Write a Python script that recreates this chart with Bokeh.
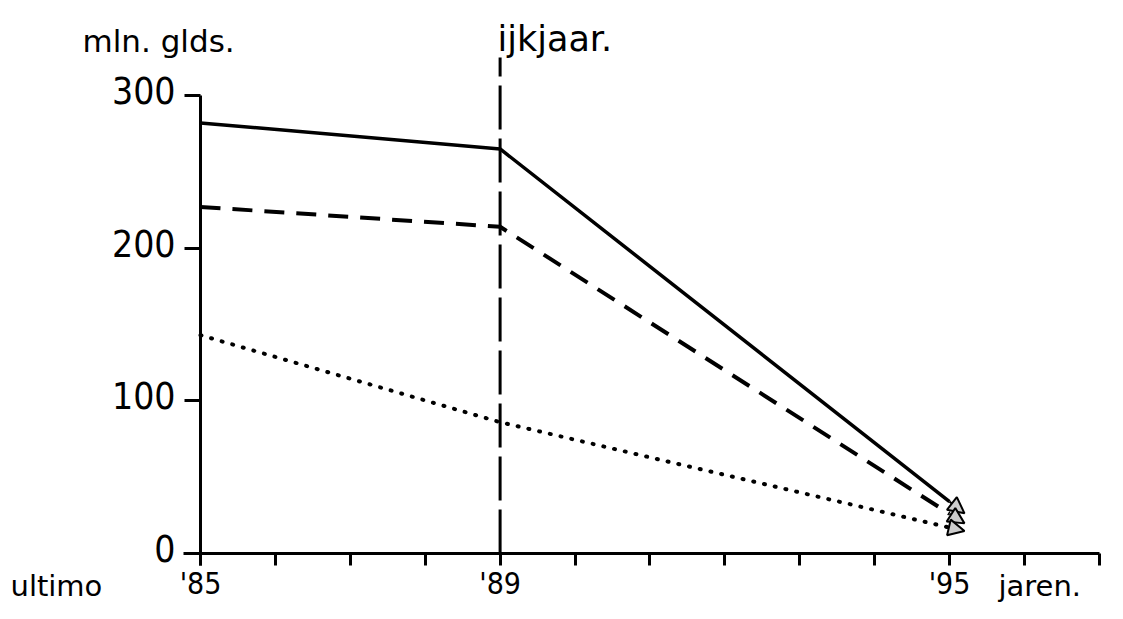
from bokeh.plotting import figure
from bokeh.models import Range1d, LinearAxis, FixedTicker, Arrow, NormalHead, Label
from bokeh.core.properties import value
from bokeh.embed import file_html
from bokeh.resources import INLINE

# ---------------- data ----------------
years = [1985, 1989, 1995]
solid_vals = [282, 265, 34]
dashed_vals = [227, 214, 26]
dotted_vals = [143, 86, 17]
ref_year = 1989                      # "ijkjaar."
x_ticks = list(range(1985, 1998))
x_tick_labels = {1985: "'85", 1989: "'89", 1995: "'95"}
y_ticks = [100, 200, 300]
y_label_vals = [0, 100, 200, 300]
y_label_text = ["0", "100", "200", "300"]

# ---------------- layout helpers (picture px -> data) ----------------
W, H = 1107, 603
SX = 74.9          # px per year
SY = 1.5267        # px per unit
def px_x(X):
    return 1985 + (X - 200) / SX
def px_y(Y):
    return (553 - Y) / SY

p = figure(width=W, height=H, output_backend="svg", toolbar_location=None,
           x_range=Range1d(px_x(0), px_x(W)), y_range=Range1d(px_y(H), px_y(0)),
           x_axis_location=None, y_axis_location=None, min_border=0,
           outline_line_color=None, background_fill_color="white", border_fill_color="white")
p.grid.visible = False

NUM_FONT = "DejaVu Sans Condensed"
WORD_FONT = "DejaVu Sans"

# axes
xaxis = LinearAxis(fixed_location=0, bounds=(px_x(183), x_ticks[-1]),
                   ticker=FixedTicker(ticks=x_ticks),
                   major_label_overrides={t: x_tick_labels.get(t, "") for t in x_ticks},
                   axis_line_width=3, major_tick_line_width=3, major_tick_out=12, major_tick_in=0,
                   minor_tick_out=0, minor_tick_in=0,
                   major_label_standoff=0, major_label_text_font=NUM_FONT,
                   major_label_text_font_size="30px", major_label_text_color="black",
                   axis_line_color="black", major_tick_line_color="black")
yaxis = LinearAxis(fixed_location=1985, bounds=(px_y(565), 300),
                   ticker=FixedTicker(ticks=y_ticks),
                   major_label_overrides={t: "" for t in y_ticks},
                   axis_line_width=3, major_tick_line_width=3, major_tick_out=16, major_tick_in=0,
                   minor_tick_out=0, minor_tick_in=0,
                   axis_line_color="black", major_tick_line_color="black")
p.add_layout(xaxis, "below")
p.add_layout(yaxis, "left")

# y tick labels (above their ticks)
p.text(x=[1985] * len(y_label_vals), y=[v + 5 / SY for v in y_label_vals], text=y_label_text,
       x_offset=-25, text_align="right", text_baseline="alphabetic",
       text_font=value(NUM_FONT), text_font_size="37px", text_color="black")

# reference year line
p.line(x=[ref_year, ref_year], y=[0, px_y(57)], line_color="black", line_width=3, line_dash="44 9")

# series
p.line(years, solid_vals, line_color="black", line_width=3.5)
p.line(years, dashed_vals, line_color="black", line_width=4, line_dash="20 12")
p.line(years, dotted_vals, line_color="black", line_width=4, line_dash="1 10", line_cap="round")

for vals in (solid_vals, dashed_vals, dotted_vals):
    x1, y1, x2, y2 = years[-2], vals[-2], years[-1], vals[-1]
    d = 0.2
    p.add_layout(Arrow(end=NormalHead(size=16, line_width=2, line_color="black", fill_color="#cccccc"),
                       x_start=x2, y_start=y2, x_end=x2 + d, y_end=y2 + (y2 - y1) / (x2 - x1) * d,
                       line_width=2, line_color="black"))

# texts
def lab(txt, X, Y, font=WORD_FONT, size="29px", align="left"):
    p.add_layout(Label(x=px_x(X), y=px_y(Y), text=txt, text_font=font, text_font_size=size,
                       text_align=align, text_baseline="alphabetic", text_color="black"))

lab("mln. glds.", 82, 40, size="31px")
lab("ijkjaar.", 497, 38, size="35px")
lab("ultimo", 10, 585)
lab("jaren.", 998, 585)

open("out.html", "w").write(file_html(p, INLINE))
